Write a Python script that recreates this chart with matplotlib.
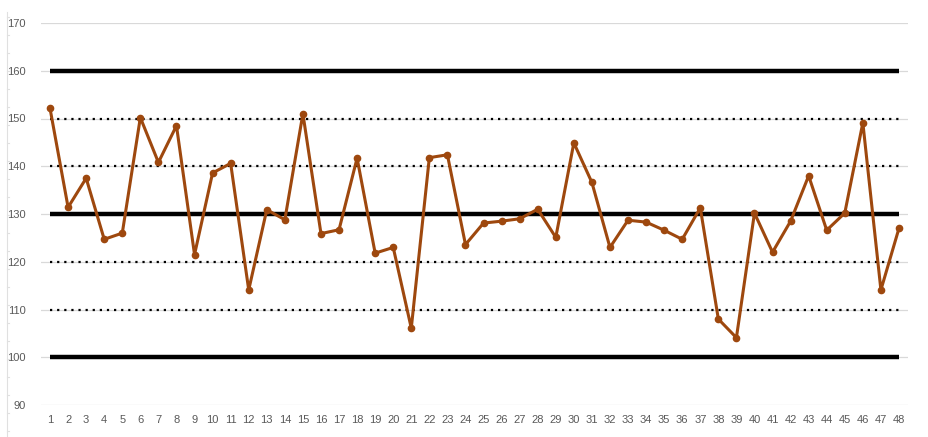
import numpy as np
import matplotlib.pyplot as plt
from matplotlib.lines import Line2D

# Номера выборок и измеренные значения
samples = list(range(1, 49))
values = [152.1, 131.4, 137.5, 124.7, 126.0, 150.2, 140.8, 148.5, 121.5, 138.6,
          140.6, 114.1, 130.9, 128.8, 151.0, 125.9, 126.7, 141.7, 121.8, 123.0,
          106.1, 141.8, 142.4, 123.6, 128.1, 128.5, 129.0, 131.0, 125.1, 144.9,
          136.6, 123.0, 128.7, 128.3, 126.6, 124.7, 131.3, 108.0, 104.1, 130.2,
          122.0, 128.5, 138.0, 126.6, 130.2, 149.1, 114.1, 127.0]

# Контрольные границы (сплошные) и зоны (пунктир)
control_limits = [100, 130, 160]
zone_lines = [110, 120, 140, 150]
y_ticks = list(range(90, 171, 10))

plt.rcParams['font.family'] = ['Liberation Sans', 'DejaVu Sans']

fig = plt.figure(figsize=(9.29, 4.37), dpi=100)
ax = fig.add_axes([41 / 929, 32 / 437, 867 / 929, 382 / 437])

for y in y_ticks:
    ax.axhline(y, color='#d9d9d9', lw=0.9, zorder=0)

for y in control_limits:
    ax.plot([samples[0], samples[-1]], [y, y], color='black', lw=3.2,
            solid_capstyle='butt', zorder=2)
for y in zone_lines:
    ax.plot([samples[0], samples[-1]], [y, y], color='black', lw=1.6,
            linestyle=(0, (1, 2.2)), zorder=2)

ax.plot(samples, values, color='#9e480e', lw=2.2, marker='o', ms=4.5,
        zorder=3)

ax.set_xlim(0.5, 48.5)
ax.set_ylim(90, 170)
ax.set_yticks(y_ticks)
ax.set_xticks(samples)
ax.tick_params(axis='both', length=0, labelsize=8, colors='#595959')
ax.tick_params(axis='y', pad=11)
ax.tick_params(axis='x', pad=7)
for s in ax.spines.values():
    s.set_visible(False)

# тонкая линия слева как на исходной картинке
fig.add_artist(Line2D([7 / 929, 7 / 929], [0, 1 - 12 / 437],
                      color='#e0e0e0', lw=0.8))
for yp in np.arange(17, 437, 18):
    fig.add_artist(Line2D([7 / 929, 9 / 929], [1 - yp / 437, 1 - yp / 437],
                          color='#e0e0e0', lw=0.8))

fig.savefig('out.png', dpi=100)
